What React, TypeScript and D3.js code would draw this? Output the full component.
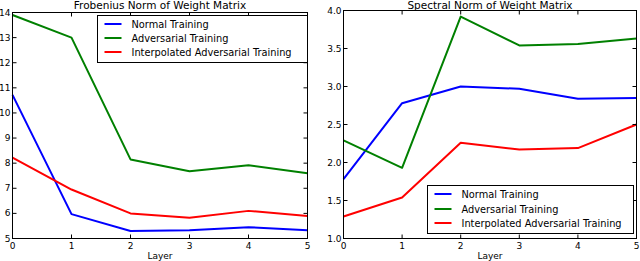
import * as d3 from 'd3';

const layers = [0, 1, 2, 3, 4, 5];
const seriesNames = ['Normal Training', 'Adversarial Training', 'Interpolated Adversarial Training'];
const seriesColors = ['#0000ff', '#008000', '#ff0000'];

const frobNormal = [10.72, 5.97, 5.3, 5.33, 5.45, 5.33];
const frobAdv = [13.9, 13.0, 8.15, 7.68, 7.92, 7.6];
const frobInterp = [8.22, 6.95, 6.0, 5.83, 6.1, 5.9];

const specNormal = [1.78, 2.78, 3.0, 2.97, 2.84, 2.85];
const specAdv = [2.29, 1.93, 3.92, 3.54, 3.56, 3.63];
const specInterp = [1.29, 1.54, 2.26, 2.17, 2.19, 2.5];

const frobTicks = [5, 6, 7, 8, 9, 10, 11, 12, 13, 14];
const specTicks = [1.0, 1.5, 2.0, 2.5, 3.0, 3.5, 4.0];

const font = 'DejaVu Sans, sans-serif';

type PanelProps = {
  title: string;
  series: number[][];
  yDomain: [number, number];
  yTicks: number[];
  yFmt: (v: number) => string;
  left: number;
  right: number;
  top: number;
  bottom: number;
  legend: { x0: number; x1: number; y0: number; y1: number; rows: number[] };
};

const Panel = ({ title, series, yDomain, yTicks, yFmt, left, right, top, bottom, legend }: PanelProps) => {
  const x = d3.scaleLinear().domain([0, 5]).range([left, right]);
  const y = d3.scaleLinear().domain(yDomain).range([bottom, top]);
  const line = d3
    .line<number>()
    .x((_, i) => x(layers[i]))
    .y((d) => y(d));
  const cx = (left + right) / 2;
  const tl = 4;

  return (
    <g>
      <text x={cx} y={9} textAnchor="middle" fontSize={10.5} fontFamily={font}>{title}</text>

      {series.map((s, i) => (
        <path key={i} d={line(s) || ''} fill="none" stroke={seriesColors[i]} strokeWidth={2} strokeLinejoin="round" />
      ))}

      <rect x={left} y={top} width={right - left} height={bottom - top} fill="none" stroke="#000" strokeWidth={1} />

      {layers.map((t) => (
        <g key={'x' + t}>
          <line x1={x(t)} x2={x(t)} y1={bottom} y2={bottom - tl} stroke="#000" />
          <line x1={x(t)} x2={x(t)} y1={top} y2={top + tl} stroke="#000" />
          <text x={x(t)} y={249} textAnchor="middle" fontSize={9} fontFamily={font}>{t}</text>
        </g>
      ))}
      {yTicks.map((t) => (
        <g key={'y' + t}>
          <line x1={left} x2={left + tl} y1={y(t)} y2={y(t)} stroke="#000" />
          <line x1={right} x2={right - tl} y1={y(t)} y2={y(t)} stroke="#000" />
          <text x={left - 2} y={y(t) + 3} textAnchor="end" fontSize={9} fontFamily={font}>{yFmt(t)}</text>
        </g>
      ))}
      <text x={cx} y={259} textAnchor="middle" fontSize={9} fontFamily={font}>Layer</text>

      <rect x={legend.x0} y={legend.y0} width={legend.x1 - legend.x0} height={legend.y1 - legend.y0} fill="#fff" stroke="#000" strokeWidth={1} />
      {seriesNames.map((n, i) => (
        <g key={n}>
          <line x1={legend.x0 + 7} x2={legend.x0 + 24} y1={legend.rows[i]} y2={legend.rows[i]} stroke={seriesColors[i]} strokeWidth={2} />
          <text x={legend.x0 + 34} y={legend.rows[i] + 4} fontSize={9.8} fontFamily={font}>{n}</text>
        </g>
      ))}
    </g>
  );
};

export default function App() {
  return (
    <svg width={640} height={261} style={{ position: 'absolute', left: 0, top: 0, background: '#fff' }}>
      <rect width={640} height={261} fill="#fff" />
      <Panel
        title="Frobenius Norm of Weight Matrix"
        series={[frobNormal, frobAdv, frobInterp]}
        yDomain={[5, 14]}
        yTicks={frobTicks}
        yFmt={(v) => String(v)}
        left={12.5}
        right={307.5}
        top={12.5}
        bottom={238.5}
        legend={{ x0: 97.5, x1: 307.5, y0: 15.5, y1: 62.5, rows: [24, 38, 52] }}
      />
      <Panel
        title="Spectral Norm of Weight Matrix"
        series={[specNormal, specAdv, specInterp]}
        yDomain={[1, 4]}
        yTicks={specTicks}
        yFmt={(v) => v.toFixed(1)}
        left={343.5}
        right={636.5}
        top={10.5}
        bottom={238.5}
        legend={{ x0: 427.5, x1: 633.5, y0: 185.5, y1: 233.5, rows: [194, 209, 223] }}
      />
    </svg>
  );
}
